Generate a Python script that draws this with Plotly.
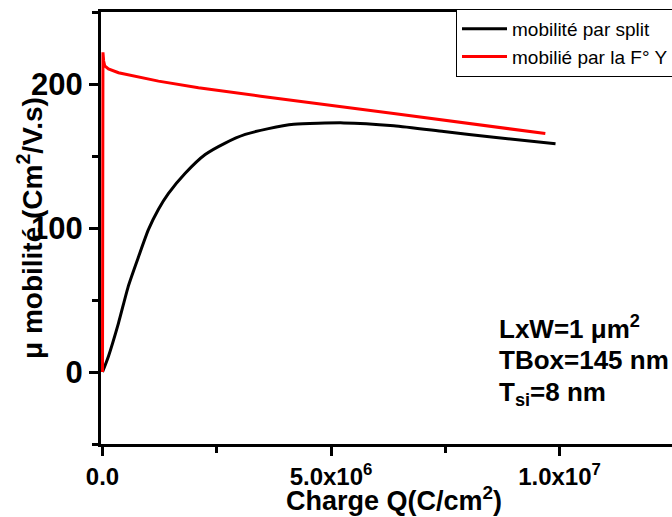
import plotly.graph_objects as go

# ---- data ----
split_q = [0, 1.31e5, 3.5e5, 5.69e5, 7.88e5, 1.007e6, 1.225e6, 1.444e6, 1.81e6,
           2.247e6, 2.685e6, 3.123e6, 3.632e6, 4.186e6, 5.28e6, 6.374e6,
           7.468e6, 8.562e6, 9.913e6]
split_mu = [0, 11, 34, 60, 80, 99, 113, 124, 138,
            151, 159, 165, 169, 172, 173, 171,
            167, 163, 158.5]

y_q = [0, 1.0e4, 2.5e4, 5e4, 1.3e5, 3.5e5, 1.225e6, 2.1e6, 3.46e6, 6.37e6, 9.69e6]
y_mu = [0, 222, 216, 212.5, 210.5, 207.8, 202, 197.4, 191.5, 179.5, 165.6]

x_tickvals = [0, 5e6, 1e7]
x_ticktext = ["0.0", "5.0x10<sup>6</sup>", "1.0x10<sup>7</sup>"]
y_tickvals = [0, 100, 200]
y_ticktext = ["0", "100", "200"]

FONT = "Liberation Sans, Arial, sans-serif"

fig = go.Figure()
fig.add_trace(go.Scatter(x=split_q, y=split_mu, mode="lines",
                         name="mobilité par split",
                         line=dict(color="black", width=3, shape="spline", smoothing=0.6)))
fig.add_trace(go.Scatter(x=y_q, y=y_mu, mode="lines",
                         name="mobilié par la F° Y",
                         line=dict(color="#ff0000", width=3)))

px_per_q = 228.5 / 5e6
fig.update_layout(
    width=672, height=517,
    margin=dict(l=101, r=0, t=12, b=73, autoexpand=False),
    paper_bgcolor="white", plot_bgcolor="white",
    font=dict(family=FONT, color="black"),
    showlegend=True,
    legend=dict(x=(456 - 101) / 571, y=1 + 3 / 432, xanchor="left", yanchor="top",
                bordercolor="black", borderwidth=1, bgcolor="white",
                font=dict(size=19, family=FONT), itemwidth=45,
                tracegroupgap=0),
    xaxis=dict(range=[-1.5 / px_per_q, 569.5 / px_per_q],
               tickmode="array", tickvals=x_tickvals, ticktext=x_ticktext,
               ticks="outside", ticklen=9, tickwidth=2.5, tickcolor="black",
               showline=True, linewidth=3, linecolor="black", mirror=True,
               showgrid=False, zeroline=False, layer="below traces",
               automargin=False,
               tickfont=dict(size=24, family=FONT, weight="bold"),
               minor=dict(ticks="outside", ticklen=6, tickwidth=2.5, tickcolor="black",
                          dtick=2.5e6, tick0=0, showgrid=False)),
    yaxis=dict(range=[-50, 250],
               tickmode="array", tickvals=y_tickvals, ticktext=y_ticktext,
               ticks="outside", ticklen=9, tickwidth=2.5, tickcolor="black",
               showline=True, linewidth=3, linecolor="black", mirror=False,
               showgrid=False, zeroline=False, layer="below traces",
               automargin=False,
               tickfont=dict(size=31, family=FONT, weight="bold"),
               minor=dict(ticks="outside", ticklen=6, tickwidth=2.5, tickcolor="black",
                          dtick=50, tick0=0, showgrid=False)),
)

def ax_x(px):
    return (px - 101) / 571

def ax_y(py):
    return (444 - py) / 432

annos = [
    dict(text="<b>μ mobilité (Cm<sup>2</sup>/V.s)</b>", x=ax_x(30), y=ax_y(228),
         textangle=-90, size=28),
    dict(text="<b>Charge Q(C/cm<sup>2</sup>)</b>", x=ax_x(394), y=ax_y(499),
         textangle=0, size=27),
]
for a in annos:
    fig.add_annotation(text=a["text"], xref="paper", yref="paper", x=a["x"], y=a["y"],
                       xanchor="center", yanchor="middle", textangle=a["textangle"],
                       showarrow=False, font=dict(size=a["size"], family=FONT, color="black"))

labels = ["<b>LxW=1 μm<sup>2</sup></b>", "<b>TBox=145 nm</b>", "<b>T<sub>si</sub>=8 nm</b>"]
label_y = [327, 360, 393]
for t, yy in zip(labels, label_y):
    fig.add_annotation(text=t, xref="paper", yref="paper", x=ax_x(497), y=ax_y(yy),
                       xanchor="left", yanchor="middle", showarrow=False,
                       font=dict(size=26, family=FONT, color="black"))

fig.write_html("out.html",
               config={"displayModeBar": False},
               post_script="document.body.style.margin='0';"
                           "document.body.style.overflow='hidden';")
